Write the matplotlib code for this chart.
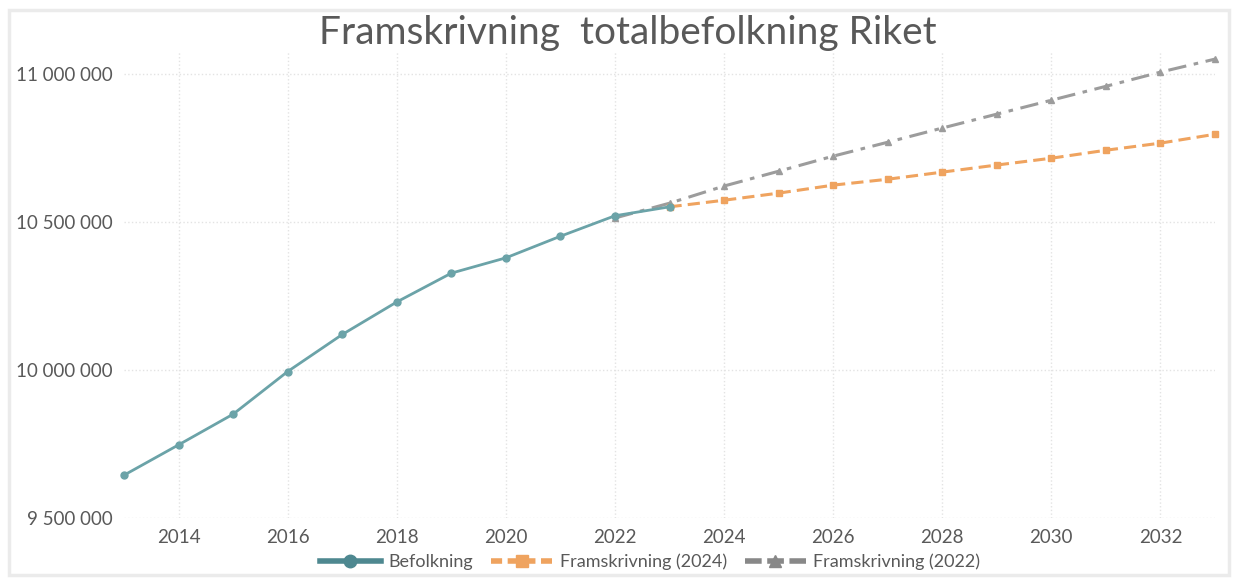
import matplotlib
matplotlib.use("Agg")
import matplotlib.pyplot as plt
from matplotlib.ticker import FuncFormatter, MultipleLocator
from matplotlib.patches import Rectangle
from matplotlib.lines import Line2D

plt.rcParams["font.family"] = ["Lato", "DejaVu Sans"]

# data
years_bef = [2013, 2014, 2015, 2016, 2017, 2018, 2019, 2020, 2021, 2022, 2023]
befolkning = [9644864, 9747355, 9851017, 9995153, 10120242, 10230185, 10327589,
              10379295, 10452326, 10521556, 10551707]

years_f24 = list(range(2023, 2034))
fram_2024 = [10551707, 10574000, 10598000, 10625000, 10645000, 10669000, 10693000,
             10716000, 10743000, 10767000, 10797000]

years_f22 = list(range(2022, 2034))
fram_2022 = [10514000, 10564000, 10622000, 10672000, 10723000, 10770000, 10818000,
             10865000, 10912000, 10959000, 11007000, 11051000]

title = "Framskrivning  totalbefolkning Riket"
labels = ["Befolkning", "Framskrivning (2024)", "Framskrivning (2022)"]

c_bef = "#6BA3A8"
c_24 = "#EFA35F"
c_22 = "#9C9C9C"
txt = "#595959"

fig = plt.figure(figsize=(12.38, 5.81), dpi=100)
fig.patches.append(Rectangle((0.007, 0.01), 0.986, 0.973, transform=fig.transFigure,
                             fill=False, edgecolor="#EBEBEB", linewidth=2.5))
ax = fig.add_axes([0.1002, 0.1084, 0.8812, 0.8021])

ax.plot(years_f22, fram_2022, color=c_22, lw=2.2, ls=(0, (6, 2.5, 1.5, 2.5)),
        marker="^", ms=5, label=labels[2], zorder=2, clip_on=False)
ax.plot(years_f24, fram_2024, color=c_24, lw=2.2, ls=(0, (4, 2)),
        marker="s", ms=5, label=labels[1], zorder=3, clip_on=False)
ax.plot(years_bef, befolkning, color=c_bef, lw=2, marker="o", ms=5,
        label=labels[0], zorder=4, clip_on=False)

ax.set_xlim(2013, 2033)
ax.set_ylim(9500000, 11075000)
ax.xaxis.set_major_locator(MultipleLocator(2))
ax.yaxis.set_major_locator(MultipleLocator(500000))
ax.yaxis.set_major_formatter(FuncFormatter(lambda v, p: f"{int(v):,}".replace(",", " ")))
ax.grid(True, color="#E3E3E3", ls=":", lw=1)
for s in ax.spines.values():
    s.set_visible(False)
ax.tick_params(length=0, labelsize=13.5, labelcolor=txt, pad=8)

fig.text(0.507, 0.943, title, ha="center", va="center", fontsize=28, color=txt)

handles = [
    Line2D([], [], color="#4E8890", lw=4, marker="o", ms=9),
    Line2D([], [], color=c_24, lw=4, ls=(0, (2, 1)), marker="s", ms=9),
    Line2D([], [], color="#888888", lw=4, ls=(0, (3, 1)), marker="^", ms=9),
]
fig.legend(handles, labels, loc="center", bbox_to_anchor=(0.525, 0.033), ncol=3,
           frameon=False, fontsize=13, labelcolor=txt, handlelength=3.4,
           columnspacing=1.0, handletextpad=0.4)

fig.savefig("out.png", dpi=100, facecolor="white")
